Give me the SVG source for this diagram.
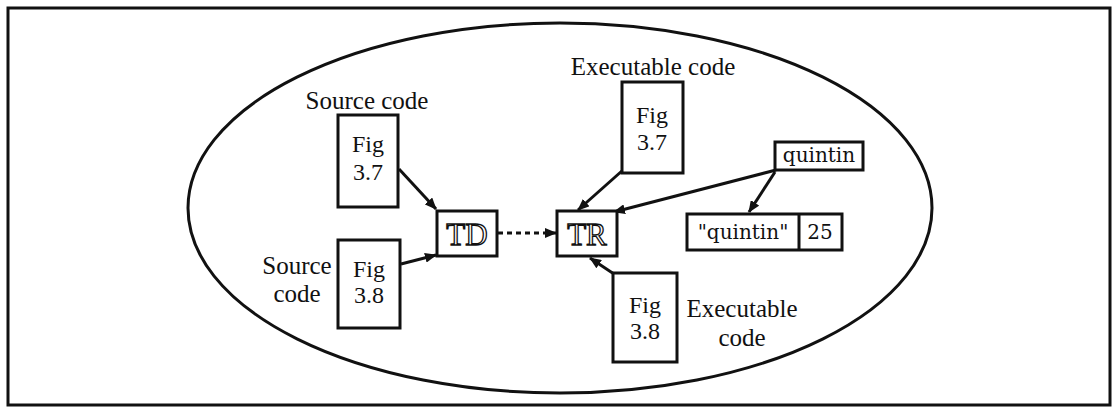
<svg xmlns="http://www.w3.org/2000/svg" width="1115" height="410" viewBox="0 0 1115 410">
<style>
.box{fill:#fff;stroke:#111;stroke-width:3}
.lbl{font-family:'Liberation Serif','Times New Roman',Times,serif;font-size:25px;fill:#111;text-anchor:middle}
.fig{font-family:'Liberation Serif','Times New Roman',Times,serif;font-size:24px;fill:#111;text-anchor:middle}
.out{font-family:'Liberation Serif','Times New Roman',Times,serif;font-size:31px;fill:#fff;stroke:#111;stroke-width:1.3;text-anchor:middle}
.pal{font-family:'DejaVu Serif',serif;font-size:20px;fill:#111;text-anchor:middle}
.conn{stroke:#111;stroke-width:3;fill:none}
</style>
<defs>
<marker id="ah" viewBox="0 0 12 10" refX="11" refY="5" markerWidth="12" markerHeight="10" markerUnits="userSpaceOnUse" orient="auto">
<path d="M0,0 L12,5 L0,10 Z" fill="#111"/>
</marker>
</defs>
<rect x="0" y="0" width="1115" height="410" fill="#fff"/>
<rect x="8" y="8" width="1102" height="397" fill="none" stroke="#111" stroke-width="3"/>
<ellipse cx="560" cy="208" rx="372" ry="185" fill="none" stroke="#111" stroke-width="3"/>

<g id="connectors">
<line class="conn" x1="399" y1="169" x2="436" y2="209" marker-end="url(#ah)"/>
<line class="conn" x1="401" y1="264" x2="436" y2="255" marker-end="url(#ah)"/>
<line class="conn" x1="498" y1="233" x2="556" y2="233" stroke-dasharray="5 4" marker-end="url(#ah)"/>
<line class="conn" x1="623" y1="170" x2="578" y2="210" marker-end="url(#ah)"/>
<line class="conn" x1="776" y1="170" x2="614" y2="212" marker-end="url(#ah)"/>
<line class="conn" x1="775" y1="172" x2="749" y2="212" marker-end="url(#ah)"/>
<line class="conn" x1="614" y1="274" x2="590" y2="258" marker-end="url(#ah)"/>
</g>

<g id="src37">
<text class="lbl" x="367" y="109">Source code</text>
<rect class="box" x="338" y="115" width="60" height="92"/>
<text class="fig" x="368" y="152">Fig</text>
<text class="fig" x="368" y="180">3.7</text>
</g>

<g id="src38">
<text class="lbl" x="297" y="274">Source</text>
<text class="lbl" x="297" y="302">code</text>
<rect class="box" x="338" y="240" width="62" height="88"/>
<text class="fig" x="369" y="277">Fig</text>
<text class="fig" x="369" y="303">3.8</text>
</g>

<g id="TD">
<rect class="box" x="437" y="211" width="60" height="45"/>
<text class="out" x="467" y="245">TD</text>
</g>

<g id="TR">
<rect class="box" x="557" y="211" width="60" height="45"/>
<text class="out" x="587" y="245">TR</text>
</g>

<g id="exe37">
<text class="lbl" x="653" y="75">Executable code</text>
<rect class="box" x="622" y="82" width="61" height="91"/>
<text class="fig" x="652" y="123">Fig</text>
<text class="fig" x="652" y="150">3.7</text>
</g>

<g id="exe38">
<rect class="box" x="613" y="273" width="64" height="89"/>
<text class="fig" x="645" y="313">Fig</text>
<text class="fig" x="645" y="339">3.8</text>
<text class="lbl" x="742" y="317">Executable</text>
<text class="lbl" x="742" y="346">code</text>
</g>

<g id="quintin">
<rect class="box" x="775" y="142" width="88" height="28"/>
<text class="pal" x="819" y="162">quintin</text>
</g>

<g id="record">
<rect class="box" x="687" y="214" width="155" height="36"/>
<line x1="799" y1="214" x2="799" y2="250" stroke="#111" stroke-width="3"/>
<text class="pal" x="743" y="239">"quintin"</text>
<text class="pal" x="820" y="239">25</text>
</g>
</svg>
